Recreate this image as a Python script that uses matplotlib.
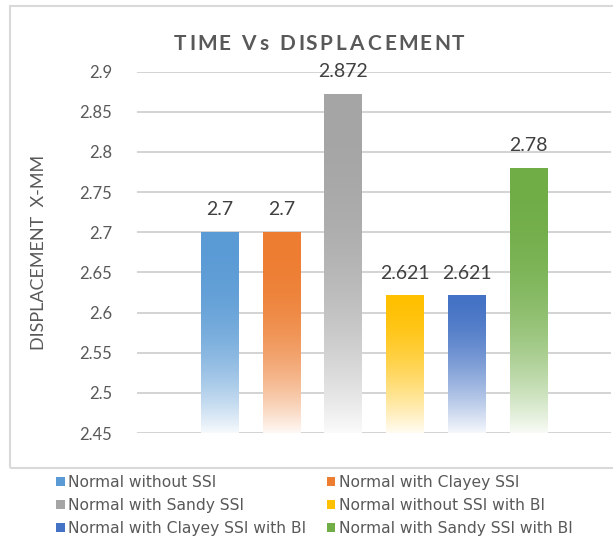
import numpy as np
import matplotlib
matplotlib.use("Agg")
import matplotlib.pyplot as plt
from matplotlib.patches import Patch, Rectangle
from matplotlib.colors import to_rgb
from matplotlib.font_manager import FontProperties
from matplotlib.textpath import TextPath

plt.rcParams['font.family'] = ['Lato', 'DejaVu Sans']

# chart data
series = ['Normal without SSI', 'Normal with Clayey SSI', 'Normal with Sandy SSI',
          'Normal without SSI with BI', 'Normal with Clayey SSI with BI',
          'Normal with Sandy SSI with BI']
values = [2.7, 2.7, 2.872, 2.621, 2.621, 2.78]
colors = ['#5B9BD5', '#ED7D31', '#A5A5A5', '#FFC000', '#4472C4', '#70AD47']
y_ticks = [2.45, 2.5, 2.55, 2.6, 2.65, 2.7, 2.75, 2.8, 2.85, 2.9]
title = 'TIME Vs DISPLACEMENT'
y_label = 'DISPLACEMENT  X-MM'

Y_MIN, Y_MAX = y_ticks[0], y_ticks[-1]
TEXT_GREY = '#595959'
W, H = 613, 538

fig = plt.figure(figsize=(W / 100, H / 100), dpi=100)
ax = fig.add_axes([136.7 / W, 1 - 433 / H, (611 - 136.7) / W, (433 - 71.7) / H])

x = np.arange(len(values))
heights = [v - Y_MIN for v in values]
bars = ax.bar(x, heights, bottom=Y_MIN, width=0.6, color='none', zorder=2)


def gradient_fill(ax, patch, color):
    """Excel style gradient: solid on top, washing out to white at the bottom"""
    x0, y0 = patch.get_x(), patch.get_y()
    w, h = patch.get_width(), patch.get_height()
    n = 256
    pos = np.linspace(0, 1, n)  # 0 = bottom, 1 = top
    # short bars wash out a bit faster
    k = 2.4 if h > 0.2 else 1.6
    mix = 0.95 * (1 - pos) ** k
    base = np.array(to_rgb(color))
    rgb = base[None, :] * (1 - mix[:, None]) + mix[:, None]
    img = rgb[:, None, :]
    ax.imshow(img, extent=[x0, x0 + w, y0, y0 + h], origin='lower',
              aspect='auto', interpolation='bilinear', zorder=2)


for patch, c in zip(bars, colors):
    gradient_fill(ax, patch, c)

for xi, v in zip(x, values):
    ax.annotate(f'{v:g}', (xi, v), xytext=(0, 10), textcoords='offset points',
                ha='center', va='bottom', fontsize=14, color='#404040')

ax.set_xlim(-1.34, 6.34)
ax.set_ylim(Y_MIN, Y_MAX)
ax.set_aspect('auto')
ax.set_yticks(y_ticks)
ax.set_yticklabels([f'{t:g}' for t in y_ticks])
ax.set_xticks([])
ax.tick_params(axis='y', length=0, pad=17.5, labelsize=12, labelcolor=TEXT_GREY)
ax.grid(axis='y', color='#d0d0d0', linewidth=1.3, zorder=0)
ax.set_axisbelow(True)
for sp in ax.spines.values():
    sp.set_visible(False)


def spaced_text(fig, cx, cy, s, spacing_px, **kw):
    """Centered text with extra character spacing (Excel 'expanded' text)"""
    prop = FontProperties(family=plt.rcParams['font.family'],
                          size=kw.get('fontsize', 12), weight=kw.get('fontweight', 'normal'))
    scale = fig.dpi / 72.0
    adv = [TextPath((0, 0), ch, prop=prop).vertices[:, 0].max() * scale
           if ch.strip() else prop.get_size_in_points() * 0.25 * scale
           for ch in s]
    total = sum(adv) + spacing_px * (len(s) - 1)
    xpos = cx * fig.bbox.width - total / 2
    for ch, a in zip(s, adv):
        fig.text(xpos / fig.bbox.width, cy, ch, ha='left', va='center', **kw)
        xpos += a + spacing_px


spaced_text(fig, 319 / W, 1 - 44 / H, title, 3.3,
            fontsize=15, fontweight='bold', color=TEXT_GREY)
fig.text(39.5 / W, 1 - 252 / H, y_label, ha='center', va='center',
         rotation=90, fontsize=13, color=TEXT_GREY)

# chart frame (legend sits below it)
fig.add_artist(Rectangle((9.5 / W, 1 - 468 / H), 1.0, (468 - 6) / H,
                         transform=fig.transFigure, fill=False,
                         edgecolor='#d9d9d9', linewidth=1.5))

handles = [Patch(facecolor=c, edgecolor='none') for c in colors]
order = [0, 2, 4, 1, 3, 5]
fig.legend([handles[i] for i in order], [series[i] for i in order],
           ncol=2, loc='upper left', bbox_to_anchor=(56 / W, 1 - 475 / H),
           frameon=False, labelcolor=TEXT_GREY,
           prop={'family': 'DejaVu Sans', 'size': 11.2},
           handlelength=0.55, handleheight=0.55, handletextpad=0.25,
           columnspacing=1.3, labelspacing=0.52, borderpad=0, borderaxespad=0)

fig.savefig('out.png', dpi=100)
